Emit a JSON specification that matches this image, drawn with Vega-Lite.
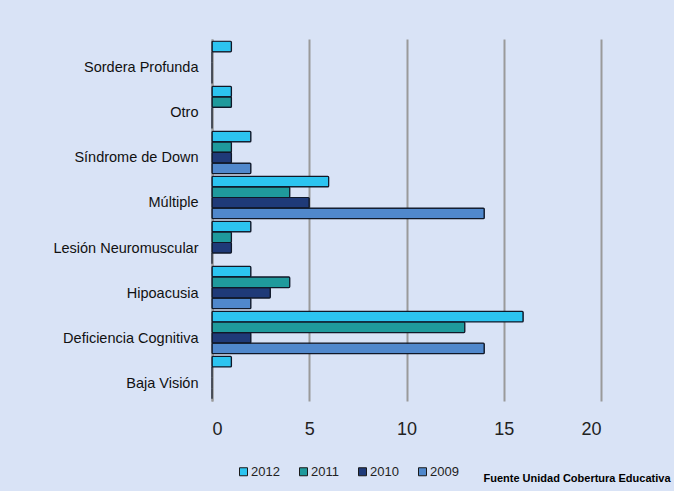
{
  "$schema": "https://vega.github.io/schema/vega-lite/v6.json",
  "autosize": "none",
  "width": 389,
  "height": 362,
  "padding": {"left": 212, "top": 39, "right": 73, "bottom": 90},
  "background": "#d9e3f6",
  "data": {"values": [
    {"cat": "Sordera Profunda", "year": "2012", "v": 1},
    {"cat": "Sordera Profunda", "year": "2011", "v": 0},
    {"cat": "Sordera Profunda", "year": "2010", "v": 0},
    {"cat": "Sordera Profunda", "year": "2009", "v": 0},
    {"cat": "Otro", "year": "2012", "v": 1},
    {"cat": "Otro", "year": "2011", "v": 1},
    {"cat": "Otro", "year": "2010", "v": 0},
    {"cat": "Otro", "year": "2009", "v": 0},
    {"cat": "Síndrome de Down", "year": "2012", "v": 2},
    {"cat": "Síndrome de Down", "year": "2011", "v": 1},
    {"cat": "Síndrome de Down", "year": "2010", "v": 1},
    {"cat": "Síndrome de Down", "year": "2009", "v": 2},
    {"cat": "Múltiple", "year": "2012", "v": 6},
    {"cat": "Múltiple", "year": "2011", "v": 4},
    {"cat": "Múltiple", "year": "2010", "v": 5},
    {"cat": "Múltiple", "year": "2009", "v": 14},
    {"cat": "Lesión Neuromuscular", "year": "2012", "v": 2},
    {"cat": "Lesión Neuromuscular", "year": "2011", "v": 1},
    {"cat": "Lesión Neuromuscular", "year": "2010", "v": 1},
    {"cat": "Lesión Neuromuscular", "year": "2009", "v": 0},
    {"cat": "Hipoacusia", "year": "2012", "v": 2},
    {"cat": "Hipoacusia", "year": "2011", "v": 4},
    {"cat": "Hipoacusia", "year": "2010", "v": 3},
    {"cat": "Hipoacusia", "year": "2009", "v": 2},
    {"cat": "Deficiencia Cognitiva", "year": "2012", "v": 16},
    {"cat": "Deficiencia Cognitiva", "year": "2011", "v": 13},
    {"cat": "Deficiencia Cognitiva", "year": "2010", "v": 2},
    {"cat": "Deficiencia Cognitiva", "year": "2009", "v": 14},
    {"cat": "Baja Visión", "year": "2012", "v": 1},
    {"cat": "Baja Visión", "year": "2011", "v": 0},
    {"cat": "Baja Visión", "year": "2010", "v": 0},
    {"cat": "Baja Visión", "year": "2009", "v": 0}
  ]},
  "mark": {"type": "bar", "stroke": "#101828", "strokeWidth": 1.2, "cornerRadius": 1},
  "encoding": {
    "y": {
      "field": "cat", "type": "nominal",
      "sort": ["Sordera Profunda", "Otro", "Síndrome de Down", "Múltiple", "Lesión Neuromuscular", "Hipoacusia", "Deficiencia Cognitiva", "Baja Visión"],
      "scale": {"paddingInner": 0.06, "paddingOuter": 0.05},
      "axis": {
        "title": null, "ticks": false, "domain": true, "domainColor": "#9a9a9a", "domainWidth": 2,
        "labelFont": "Liberation Sans", "labelFontSize": 14.5, "labelColor": "#111111", "labelPadding": 14,
        "labelOffset": 6
      }
    },
    "yOffset": {"field": "year", "type": "nominal", "sort": ["2012", "2011", "2010", "2009"], "scale": {"paddingInner": 0}},
    "x": {
      "field": "v", "type": "quantitative",
      "scale": {"domain": [0, 20], "nice": false},
      "axis": {
        "values": [0, 5, 10, 15, 20], "ticks": false, "domain": false,
        "grid": true, "gridColor": "#9a9a9a", "gridWidth": 2,
        "labelFont": "Liberation Sans", "labelFontSize": 18, "labelColor": "#222222", "labelPadding": 19,
        "title": "Fuente Unidad Cobertura Educativa",
        "titleFont": "Liberation Sans", "titleFontSize": 11, "titleFontWeight": "bold", "titleColor": "#000000",
        "titleAnchor": "end", "titleAlign": "right", "titleBaseline": "middle", "titleX": 458, "titleY": 77
      }
    },
    "color": {
      "field": "year", "type": "nominal",
      "scale": {"domain": ["2012", "2011", "2010", "2009"], "range": ["#2cc4f0", "#1f9a9c", "#1f3a78", "#5088cc"]},
      "legend": {
        "title": null, "orient": "none", "direction": "horizontal", "legendX": 25, "legendY": 426,
        "symbolType": "square", "symbolSize": 64, "symbolStrokeColor": "#1a1a1a", "symbolStrokeWidth": 1,
        "labelFont": "Liberation Sans", "labelFontSize": 13, "labelColor": "#222222", "labelOffset": 1,
        "columnPadding": 17
      }
    }
  },
  "config": {"view": {"stroke": null}}
}
